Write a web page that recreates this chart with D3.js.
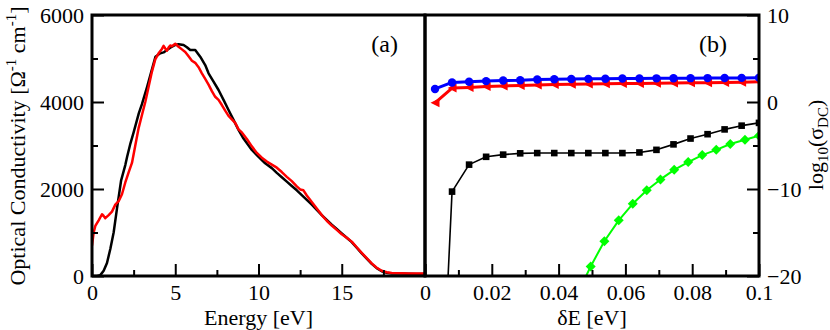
<!DOCTYPE html>
<html><head><meta charset="utf-8">
<script src="https://cdn.jsdelivr.net/npm/d3@7/dist/d3.min.js"></script>
<style>
body{margin:0;background:#fff;}
svg{display:block;}
text{font-family:"Liberation Serif","DejaVu Serif",serif !important;}
.tick line{stroke:#000;stroke-width:2;}
</style></head>
<body><svg id="c" width="830" height="330"></svg>
<script>
// ---- Panel (a): optical conductivity vs energy ----
const energyBlack = [0,0.3,0.5,0.7,0.9,1.1,1.3,1.5,1.75,2.0,2.11,2.31,2.5,2.81,3.0,3.31,3.6,3.81,4.1,4.3,4.5,4.7,5.0,5.2,5.5,5.7,5.9,6.2,6.5,6.8,7.0,7.3,7.6,7.9,8.2,8.5,8.8,9.1,9.6,9.9,10.4,10.8,11.1,11.4,11.7,12.0,12.3,12.6,12.9,13.2,13.5,13.8,14.1,14.4,14.7,15.0,15.3,15.6,15.9,16.2,16.5,16.8,17.1,17.4,17.7,18.0,18.5,19.0,19.5,20.0];
const sigmaBlack  = [0,0,20,120,300,620,1000,1550,2200,2550,2740,3050,3300,3740,3950,4350,4750,5040,5120,5140,5196,5250,5311,5330,5311,5260,5196,5196,5042,4850,4660,4470,4276,4050,3816,3590,3357,3160,2897,2780,2590,2480,2370,2270,2170,2070,1970,1860,1750,1640,1520,1400,1290,1180,1080,980,880,780,650,520,400,280,180,110,75,60,55,50,48,45];
const energyRed = [0,0.1,0.2,0.4,0.6,0.7,0.8,1.0,1.2,1.4,1.6,1.8,2.0,2.2,2.4,2.6,2.8,3.0,3.2,3.4,3.6,3.8,4.0,4.2,4.3,4.4,4.5,4.6,4.7,4.8,5.0,5.2,5.4,5.6,5.8,6.0,6.2,6.4,6.6,6.8,7.0,7.2,7.4,7.6,7.8,8.0,8.2,8.4,8.6,8.8,9.0,9.3,9.6,9.9,10.2,10.5,10.8,11.1,11.4,11.7,12.0,12.3,12.5,12.7,12.9,13.2,13.5,13.8,14.1,14.4,14.7,15.0,15.3,15.6,15.9,16.2,16.5,16.8,17.1,17.4,17.7,18.0,18.5,19.0,19.5,20.0];
const sigmaRed  = [700,1000,1150,1280,1420,1380,1330,1400,1480,1640,1720,1880,2150,2380,2600,3000,3400,3700,4000,4350,4700,4980,5120,5220,5290,5230,5180,5250,5300,5280,5340,5270,5210,5150,5050,4950,4900,4800,4660,4530,4400,4250,4120,4050,3930,3800,3680,3600,3520,3370,3300,3150,2980,2830,2720,2630,2560,2490,2390,2280,2180,2060,1990,1970,1850,1700,1550,1400,1270,1160,1060,960,880,790,660,530,410,290,190,120,85,70,65,60,58,55];
const xTicksA = [0,5,10,15,20];
const xTickLabelsA = ["0","5","10","15",""];
const xMinorA = [2.5,7.5,12.5,17.5];
const yTicksA = [0,2000,4000,6000];
const yMinorA = [1000,3000,5000];

// ---- Panel (b): log10 DC conductivity vs dE ----
const dE = [0.003,0.0081,0.0132,0.0183,0.0234,0.0285,0.0336,0.0387,0.0438,0.0489,0.054,0.0591,0.0642,0.0693,0.0744,0.0795,0.0846,0.0897,0.0948,0.1];
const logBlue  = [1.5,2.25,2.33,2.4,2.47,2.5,2.58,2.62,2.64,2.66,2.68,2.7,2.71,2.72,2.73,2.74,2.75,2.76,2.77,2.8];
const logRed   = [-0.1,1.6,1.68,1.78,1.85,1.9,1.95,2.0,2.03,2.06,2.09,2.12,2.14,2.16,2.18,2.2,2.22,2.25,2.28,2.32];
const logBlack = [-52,-10.3,-7.2,-6.3,-6.05,-5.9,-5.87,-5.87,-5.87,-5.87,-5.87,-5.87,-5.8,-5.5,-4.87,-4.2,-3.7,-3.15,-2.72,-2.4];
const dEGreen  = [0.0454,0.0496,0.0537,0.058,0.0622,0.0664,0.0705,0.0746,0.0788,0.083,0.0872,0.0914,0.0958,0.1];
const logGreen = [-22.3,-18.9,-16.0,-13.6,-11.7,-10.15,-8.9,-7.8,-6.9,-6.1,-5.5,-4.83,-4.33,-3.87];
const xTicksB = [0,0.02,0.04,0.06,0.08,0.1];
const xTickLabelsB = ["0","0.02","0.04","0.06","0.08","0.1"];
const xMinorB = [0.01,0.03,0.05,0.07,0.09];
const yTicksB = [-20,-10,0,10];
const yMinorB = [-15,-5,5];

const FONT = "'Liberation Serif','DejaVu Serif',serif";
const svg = d3.select("#c");
const L=92, M=425, R=759, T=15, B=276;
const xA = d3.scaleLinear([0,20],[L,M]);
const yA = d3.scaleLinear([0,6000],[B,T]);
const xB = d3.scaleLinear([0,0.1],[M,R]);
const yB = d3.scaleLinear([-20,10],[B,T]);

svg.append("defs").append("clipPath").attr("id","clipA").append("rect").attr("x",L).attr("y",T).attr("width",M-L).attr("height",B-T);
svg.select("defs").append("clipPath").attr("id","clipB").append("rect").attr("x",M).attr("y",T).attr("width",R-M).attr("height",B-T);

// Panel (a) curves
const gA = svg.append("g").attr("clip-path","url(#clipA)");
const lineA = d3.line().x(d=>xA(d[0])).y(d=>yA(d[1]));
gA.append("path").datum(energyBlack.map((e,i)=>[e,sigmaBlack[i]])).attr("d",lineA).attr("fill","none").attr("stroke","#000").attr("stroke-width",2.5).attr("stroke-linejoin","round");
gA.append("path").datum(energyRed.map((e,i)=>[e,sigmaRed[i]])).attr("d",lineA).attr("fill","none").attr("stroke","#ff0000").attr("stroke-width",2.5).attr("stroke-linejoin","round");

// Panel (b) curves
const gB = svg.append("g").attr("clip-path","url(#clipB)");
const lineB = d3.line().x(d=>xB(d[0])).y(d=>yB(d[1]));
function series(xs, ys, color, width, shape, size){
  const pts = xs.map((x,i)=>[x,ys[i]]);
  gB.append("path").datum(pts).attr("d",lineB).attr("fill","none").attr("stroke",color).attr("stroke-width",width).attr("stroke-linejoin","round");
  const g = gB.append("g");
  pts.forEach(p=>{
    const cx=xB(p[0]), cy=yB(p[1]);
    if(shape==="circle") g.append("circle").attr("cx",cx).attr("cy",cy).attr("r",size).attr("fill",color);
    else if(shape==="square") g.append("rect").attr("x",cx-size).attr("y",cy-size).attr("width",2*size).attr("height",2*size).attr("fill",color);
    else if(shape==="diamond") g.append("path").attr("d",`M${cx},${cy-size}L${cx+size},${cy}L${cx},${cy+size}L${cx-size},${cy}Z`).attr("fill",color);
    else if(shape==="triLeft") g.append("path").attr("d",`M${cx-size},${cy}L${cx+size},${cy-size}L${cx+size},${cy+size}Z`).attr("fill",color);
  });
}
series(dE, logRed, "#ff0000", 3, "triLeft", 4.5);
series(dE, logBlue, "#0000ff", 3, "circle", 4.2);
series(dE, logBlack, "#000000", 1.6, "square", 3.3);
series(dEGreen, logGreen, "#00ff00", 2, "diamond", 5);

// Axes panel (a)
svg.append("g").attr("transform",`translate(0,${B})`)
  .call(d3.axisBottom(xA).tickValues(xTicksA).tickSize(-12).tickPadding(8).tickFormat((d,i)=>xTickLabelsA[i]));
svg.append("g").attr("transform",`translate(0,${B})`)
  .call(d3.axisBottom(xA).tickValues(xMinorA).tickSize(-6).tickFormat(""));
svg.append("g").attr("transform",`translate(${L},0)`)
  .call(d3.axisLeft(yA).tickValues(yTicksA).tickSize(-12).tickPadding(8).tickFormat(d3.format("d")));
svg.append("g").attr("transform",`translate(${L},0)`)
  .call(d3.axisLeft(yA).tickValues(yMinorA).tickSize(-6).tickFormat(""));

// Axes panel (b)
svg.append("g").attr("transform",`translate(0,${B})`)
  .call(d3.axisBottom(xB).tickValues(xTicksB).tickSize(-12).tickPadding(8).tickFormat((d,i)=>xTickLabelsB[i]));
svg.append("g").attr("transform",`translate(0,${B})`)
  .call(d3.axisBottom(xB).tickValues(xMinorB).tickSize(-6).tickFormat(""));
svg.append("g").attr("transform",`translate(${R},0)`)
  .call(d3.axisRight(yB).tickValues(yTicksB).tickSize(-12).tickPadding(8).tickFormat(d3.format("d")));
svg.append("g").attr("transform",`translate(${R},0)`)
  .call(d3.axisRight(yB).tickValues(yMinorB).tickSize(-6).tickFormat(""));

svg.selectAll(".domain").remove();
svg.selectAll("g").filter(function(){return this.getAttribute("font-family");}).attr("font-family",FONT).attr("font-size",22);
svg.selectAll(".tick text").attr("font-family",FONT).attr("font-size",22).style("font-family",FONT).style("font-size","22px");

// Frames
svg.append("rect").attr("x",L).attr("y",T).attr("width",M-L).attr("height",B-T).attr("fill","none").attr("stroke","#000").attr("stroke-width",3);
svg.append("rect").attr("x",M).attr("y",T).attr("width",R-M).attr("height",B-T).attr("fill","none").attr("stroke","#000").attr("stroke-width",3);

// Labels
const txt = (x,y,s,anchor,size)=>svg.append("text").attr("x",x).attr("y",y).attr("text-anchor",anchor||"middle").attr("font-family",FONT).style("font-family",FONT).style("font-size",(size||22)+"px").text(s);
txt((L+M)/2, 325, "Energy [eV]");
txt((M+R)/2, 325, "δE [eV]");
txt(398, 52, "(a)", "end", 24);
txt(727, 52, "(b)", "end", 24);

const yl = svg.append("text").attr("transform","translate(25,146) rotate(-90)").attr("text-anchor","middle").attr("font-family",FONT).style("font-family",FONT).style("font-size","22px");
yl.append("tspan").text("Optical Conductivity [Ω");
yl.append("tspan").attr("dy",-9).style("font-size","15px").text("-1");
yl.append("tspan").attr("dy",9).text(" cm");
yl.append("tspan").attr("dy",-9).style("font-size","15px").text("-1");
yl.append("tspan").attr("dy",9).text("]");

const yr = svg.append("text").attr("transform","translate(823,145) rotate(-90)").attr("text-anchor","middle").attr("font-family",FONT).style("font-family",FONT).style("font-size","22px");
yr.append("tspan").text("log");
yr.append("tspan").attr("dy",5).style("font-size","15px").text("10");
yr.append("tspan").attr("dy",-5).text("(σ");
yr.append("tspan").attr("dy",5).style("font-size","15px").text("DC");
yr.append("tspan").attr("dy",-5).text(")");
</script></body></html>
